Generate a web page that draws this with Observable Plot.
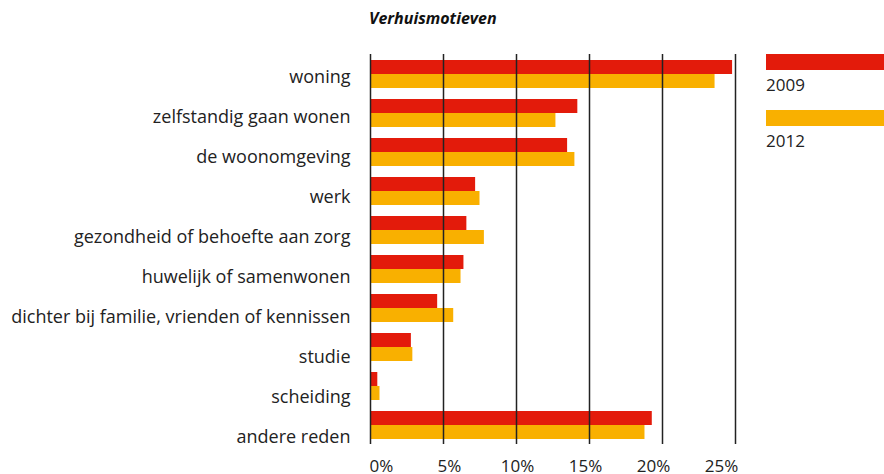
<!DOCTYPE html>
<html><head><meta charset="utf-8">
<script src="https://cdn.jsdelivr.net/npm/d3@7"></script>
<script src="https://cdn.jsdelivr.net/npm/@observablehq/plot@0.6"></script>
<style>
body{margin:0;background:#fff;font-family:"Open Sans",sans-serif;}
#wrap{position:relative;width:884px;height:474px;overflow:hidden;}
#wrap svg{position:absolute;left:0;top:0;}
#title{position:absolute;left:369px;top:7px;font-size:16px;font-weight:bold;font-style:italic;color:#111;}
.sw{position:absolute;left:766px;width:130px;height:16px;}
.lt{position:absolute;left:766px;font-size:17px;color:#222;}
</style></head><body>
<div id="wrap">
<div id="title">Verhuismotieven</div>
<div class="sw" style="top:54px;background:#e31b0b"></div>
<div class="lt" style="top:73px">2009</div>
<div class="sw" style="top:110px;background:#f9b000"></div>
<div class="lt" style="top:129px">2012</div>
</div>
<script>
const categories = ["woning","zelfstandig gaan wonen","de woonomgeving","werk","gezondheid of behoefte aan zorg","huwelijk of samenwonen","dichter bij familie, vrienden of kennissen","studie","scheiding","andere reden"];
const values2009 = [24.8,14.2,13.5,7.2,6.6,6.4,4.6,2.8,0.5,19.3];
const values2012 = [23.6,12.7,14.0,7.5,7.8,6.2,5.7,2.9,0.65,18.8];
const xTicks = [0,5,10,15,20,25];
const colors = {"2009":"#e31b0b","2012":"#f9b000"};

const d09 = categories.map((c,i)=>({cat:c,v:values2009[i]}));
const d12 = categories.map((c,i)=>({cat:c,v:values2012[i]}));

// bars and gridlines
const chart = Plot.plot({
  width:884, height:474,
  marginLeft:370, marginRight:149, marginTop:54, marginBottom:30,
  style:{fontFamily:"Open Sans, sans-serif", color:"#222", background:"transparent"},
  x:{domain:[0,25], axis:null},
  y:{type:"band", domain:categories, padding:0, axis:null},
  marks:[
    Plot.barX(d09,{x:"v",y:"cat",fill:colors["2009"],insetTop:6,insetBottom:19}),
    Plot.barX(d12,{x:"v",y:"cat",fill:colors["2012"],insetTop:20,insetBottom:5}),
    Plot.ruleX(xTicks,{stroke:"#222",strokeWidth:1.5})
  ]
});

// tick labels (laid out on their own spacing, as in the original)
const labels = Plot.plot({
  width:884, height:474,
  marginLeft:381, marginRight:163, marginTop:53.6, marginBottom:13.4,
  style:{fontFamily:"Open Sans, sans-serif", color:"#222", background:"transparent"},
  x:{domain:[0,25], label:null},
  y:{type:"band", domain:categories, padding:0, label:null},
  marks:[
    Plot.axisX({ticks:xTicks,tickFormat:d=>d+"%",tickSize:0,tickPadding:-1,anchor:"bottom",fontSize:17}),
    Plot.axisY({tickSize:0,tickPadding:31,anchor:"left",fontSize:18})
  ]
});
const wrap=document.getElementById("wrap");
wrap.prepend(labels);
wrap.prepend(chart);
</script>
</body></html>
